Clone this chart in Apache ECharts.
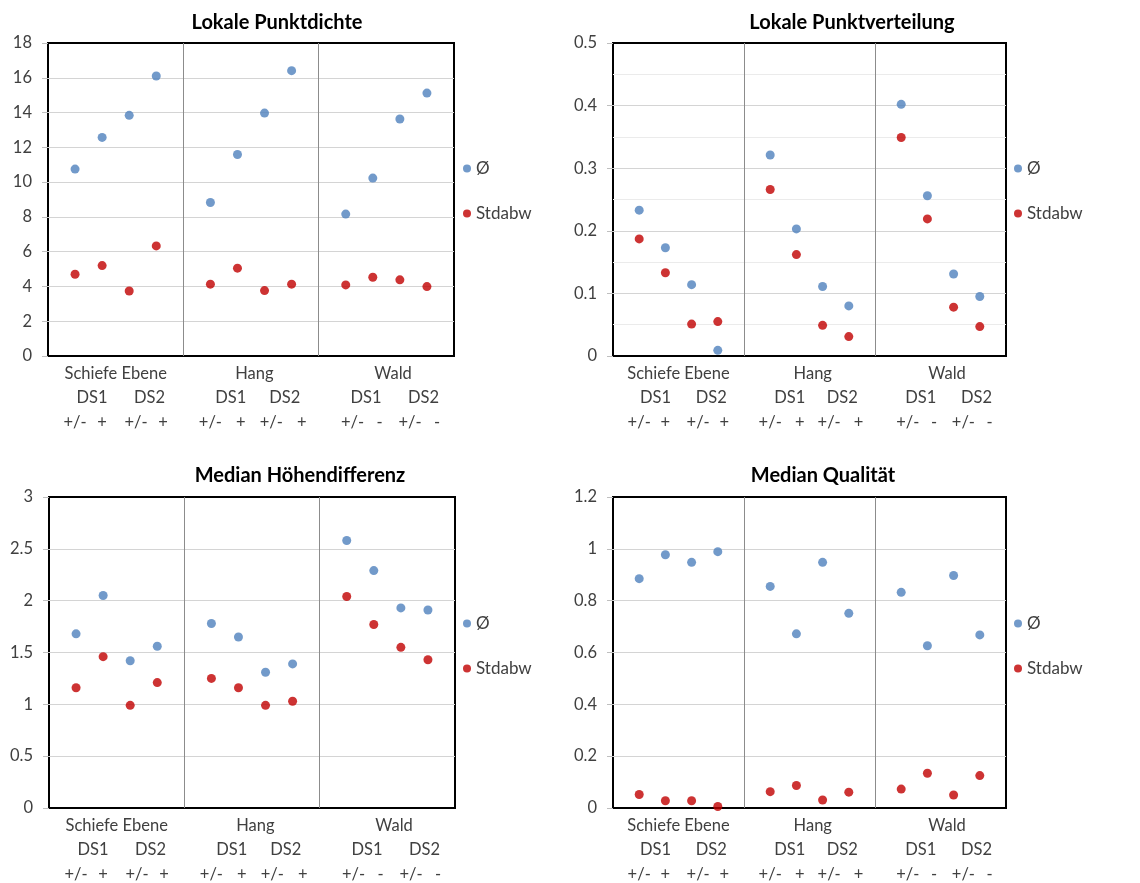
<!DOCTYPE html>
<html>
<head>
<meta charset="utf-8">
<script src="https://cdn.jsdelivr.net/npm/echarts@6/dist/echarts.min.js"></script>
<style>
html,body{margin:0;padding:0;background:#fff;}
#chart{width:1140px;height:883px;}
</style>
</head>
<body>
<div id="chart"></div>
<script>
// ---- data ----
const xPos = [1, 2, 3, 4, 6, 7, 8, 9, 11, 12, 13, 14];
const groupLabels = ['Schiefe Ebene', 'Hang', 'Wald'];
const groupLabelPos = [2.5, 7.625, 12.75];
const dsLabels = ['DS1', 'DS2', 'DS1', 'DS2', 'DS1', 'DS2'];
const dsLabelPos = [1.625, 3.75, 6.75, 8.75, 11.75, 13.875];
const signLabels = ['+/-', '+', '+/-', '+', '+/-', '+', '+/-', '+', '+/-', '-', '+/-', '-'];
const signLabelPos = [1, 2, 3.25, 4.25, 6, 7.125, 8.25, 9.375, 11.25, 12.25, 13.375, 14.375];
const seriesNames = ['Ø', 'Stdabw'];

const titles = ['Lokale Punktdichte', 'Lokale Punktverteilung', 'Median Höhendifferenz', 'Median Qualität'];

const dichteMean = [10.75, 12.57, 13.84, 16.1, 8.83, 11.59, 13.97, 16.41, 8.16, 10.23, 13.63, 15.12];
const dichteStd = [4.70, 5.20, 3.74, 6.33, 4.13, 5.05, 3.76, 4.13, 4.09, 4.53, 4.38, 3.99];
const verteilungMean = [0.233, 0.173, 0.114, 0.009, 0.321, 0.203, 0.111, 0.080, 0.402, 0.256, 0.131, 0.095];
const verteilungStd = [0.187, 0.133, 0.051, 0.055, 0.266, 0.162, 0.049, 0.031, 0.349, 0.219, 0.078, 0.047];
const hoeheMean = [1.68, 2.05, 1.42, 1.56, 1.78, 1.65, 1.31, 1.39, 2.58, 2.29, 1.93, 1.91];
const hoeheStd = [1.16, 1.46, 0.99, 1.21, 1.25, 1.16, 0.99, 1.03, 2.04, 1.77, 1.55, 1.43];
const qualMean = [0.885, 0.977, 0.948, 0.989, 0.855, 0.672, 0.948, 0.751, 0.832, 0.626, 0.897, 0.668];
const qualStd = [0.052, 0.028, 0.028, 0.006, 0.063, 0.087, 0.031, 0.061, 0.073, 0.134, 0.050, 0.125];

const yMax = [18, 0.5, 3, 1.2];
const yInterval = [2, 0.1, 0.5, 0.2];
const meanSets = [dichteMean, verteilungMean, hoeheMean, qualMean];
const stdSets = [dichteStd, verteilungStd, hoeheStd, qualStd];

// ---- layout / style ----
const FONT = 'Lato, "Open Sans", sans-serif';
const LABEL_COLOR = '#404040';
const BLUE = '#4F81BD';
const RED = '#C00000';
const grids = [
  { left: 48, top: 43, width: 406, height: 313 },
  { left: 613, top: 43, width: 393, height: 313 },
  { left: 49, top: 497, width: 406, height: 313 },
  { left: 613, top: 497, width: 393, height: 313 }
];
const titlePos = [[272, 8], [847, 8], [295, 461], [818, 461]];
const legendPos = [[458, 155], [1009, 155], [458, 610], [1009, 610]];

function mapLabels(labels, pos) {
  const m = {};
  pos.forEach((p, i) => { m[Math.round(p * 8)] = labels[i]; });
  return m;
}
const rowMaps = [
  mapLabels(groupLabels, groupLabelPos),
  mapLabels(dsLabels, dsLabelPos),
  mapLabels(signLabels, signLabelPos)
];
const rowOffsets = [0, 24, 49];

const option = {
  backgroundColor: '#fff',
  animation: false,
  title: [], legend: [], grid: [], xAxis: [], yAxis: [], series: []
};

for (let g = 0; g < 4; g++) {
  option.title.push({
    text: titles[g], left: titlePos[g][0], top: titlePos[g][1], textAlign: 'center',
    textStyle: { fontFamily: FONT, fontSize: 20, fontWeight: 'bold', color: '#000' }
  });
  option.grid.push(Object.assign({ show: true, borderColor: '#000', borderWidth: 2, backgroundColor: 'transparent', containLabel: false }, grids[g]));
  option.legend.push({
    orient: 'vertical', left: legendPos[g][0], top: legendPos[g][1],
    itemWidth: 8, itemHeight: 8, itemGap: 28, icon: 'circle',
    data: seriesNames,
    textStyle: { fontFamily: FONT, fontSize: 17, color: LABEL_COLOR }
  });
  // data x axis (dividers)
  const xi = option.xAxis.length;
  option.xAxis.push({
    gridIndex: g, type: 'value', min: 0, max: 15, interval: 5,
    axisLine: { show: false }, axisTick: { show: false }, axisLabel: { show: false },
    splitLine: { show: true, showMinLine: false, showMaxLine: false, lineStyle: { color: '#8c8c8c', width: 1 } }
  });
  // label rows
  for (let r = 0; r < 3; r++) {
    const map = rowMaps[r];
    option.xAxis.push({
      gridIndex: g, type: 'value', min: 0, max: 15, interval: 0.125, position: 'bottom', offset: rowOffsets[r],
      axisLine: { show: false }, axisTick: { show: false }, splitLine: { show: false },
      axisLabel: {
        show: true, margin: 9, fontFamily: FONT, fontSize: 16.5, color: LABEL_COLOR,
        showMinLabel: true, showMaxLabel: true,
        formatter: v => map[Math.round(v * 8)] || ''
      }
    });
  }
  const yi = option.yAxis.length;
  option.yAxis.push({
    gridIndex: g, type: 'value', min: 0, max: yMax[g], interval: yInterval[g],
    axisLine: { show: false },
    axisTick: { show: true, length: 6, lineStyle: { color: '#bfbfbf' } },
    axisLabel: { margin: 16, fontFamily: FONT, fontSize: 16.5, color: LABEL_COLOR },
    splitLine: { show: true, showMinLine: false, showMaxLine: false, lineStyle: { color: '#d4d4d4', width: 1.2 } },
    minorTick: { show: false, splitNumber: 2 },
    minorSplitLine: { show: g === 1, lineStyle: { color: '#ebebeb', width: 1 } }
  });
  [meanSets[g], stdSets[g]].forEach((vals, k) => {
    option.series.push({
      name: seriesNames[k], type: 'scatter', xAxisIndex: xi, yAxisIndex: yi,
      symbol: 'circle', symbolSize: 9,
      itemStyle: { color: k === 0 ? BLUE : RED },
      data: vals.map((v, i) => [xPos[i], v])
    });
  });
}

const chart = echarts.init(document.getElementById('chart'), null, { renderer: 'canvas' });
chart.setOption(option);
</script>
</body>
</html>
